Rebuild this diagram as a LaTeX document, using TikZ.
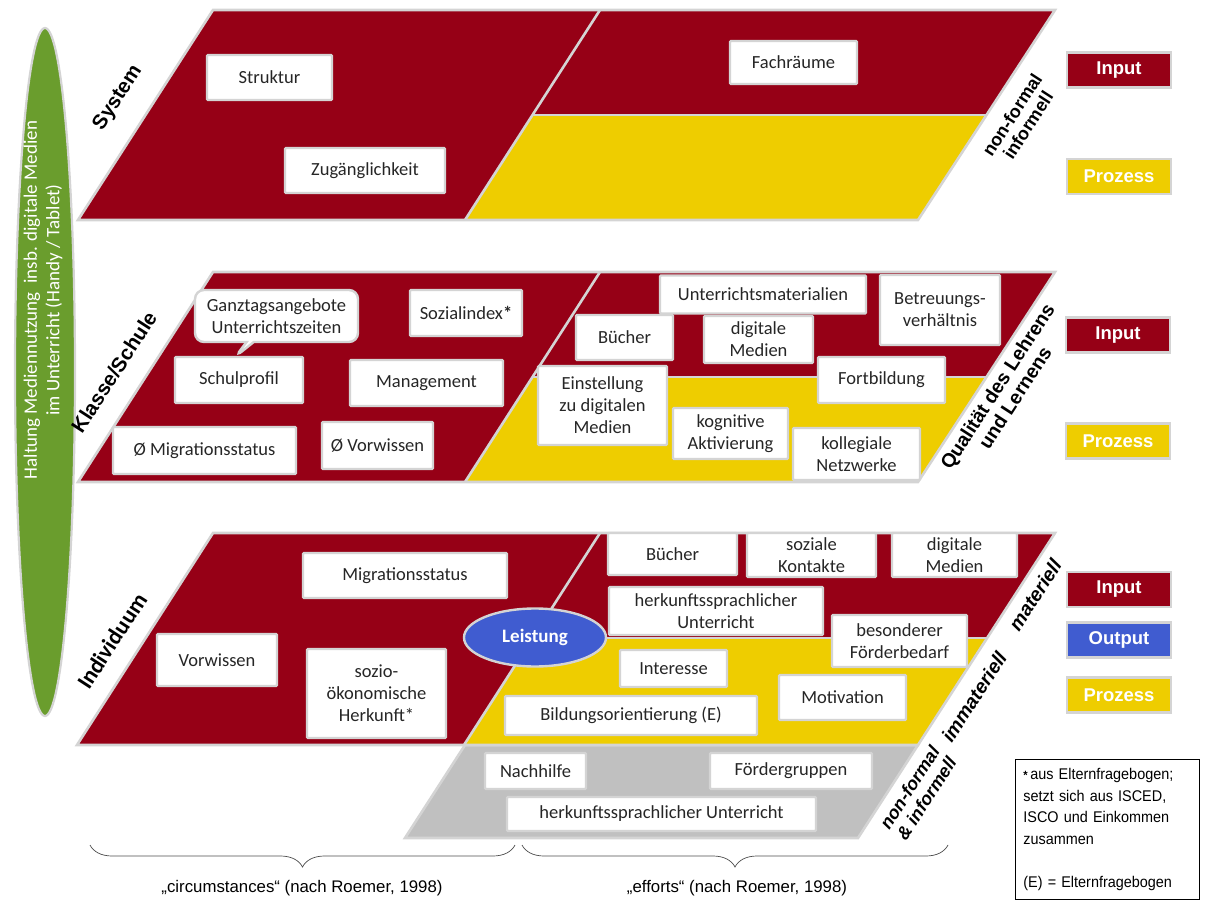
\documentclass[tikz,border=0pt]{standalone}
\usepackage{fontspec}
\setmainfont{Carlito}
\newfontfamily\arialf{Liberation Sans}
\newfontfamily\narrowf[FakeStretch=0.93]{Liberation Sans}
\usetikzlibrary{shapes.geometric,shapes.callouts,decorations.pathreplacing}
\definecolor{dred}{RGB}{150,0,22}
\definecolor{ylw}{RGB}{238,205,0}
\definecolor{gfill}{RGB}{192,192,192}
\definecolor{bord}{RGB}{212,212,212}
\definecolor{blu}{RGB}{64,92,208}
\definecolor{grn}{RGB}{106,157,45}
\tikzset{
  box/.style={draw=bord, line width=2.4pt, fill=white, rounded corners=1pt, align=center,
    font=\fontsize{18.5}{22}\selectfont, inner sep=0pt, text=black!85},
  lay/.style={draw=bord, line width=2.6pt},
  tag/.style={draw=bord, line width=2.6pt, text=white, font=\arialf\bfseries\fontsize{18.5}{20}\selectfont,
    minimum width=104, minimum height=35, inner sep=0pt},
  lbl/.style={font=\arialf\bfseries\fontsize{20.5}{22}\selectfont, rotate=57, align=center, inner sep=0pt},
  lbli/.style={font=\arialf\bfseries\itshape\fontsize{19.5}{21}\selectfont, rotate=57, align=center, inner sep=0pt},
  brc/.style={decorate, decoration={brace, mirror, amplitude=22pt}, draw=black!70, line width=0.7pt},
  btxt/.style={font=\arialf\fontsize{16.8}{19}\selectfont}
}
\newcommand\bx[6]{\node[box, minimum width=#4, minimum height=#5] (#1) at (#2,#3) {#6};}
\begin{document}
\begin{tikzpicture}[x=1pt,y=-1pt]
\useasboundingbox (0,0) rectangle (1208,901);

% green ellipse
\node[ellipse, fill=grn, draw=bord, line width=2.2pt, minimum width=60, minimum height=688, inner sep=0pt] (haltung) at (45,372) {};
\node[rotate=90, text=white, inner sep=0pt, align=center, font=\fontsize{19}{22.5}\selectfont] (haltungtxt) at (43,300)
  {Haltung Mediennutzung\ \ insb. digitale Medien\\ im Unterricht (Handy / Tablet)};

% ===== top layer =====
\fill[dred] (213,10) -- (600,10) -- (465,220) -- (78,220) -- cycle;
\fill[dred] (600,10) -- (1055,10) -- (987,115) -- (532,115) -- cycle;
\fill[ylw] (532,115) -- (987,115) -- (918,220) -- (465,220) -- cycle;
\draw[lay] (213,10) -- (1055,10) -- (918,220) -- (78,220) -- cycle;
\draw[lay] (600,10) -- (465,220);
\draw[lay] (532,115) -- (987,115);

\bx{struktur}{269.5}{77.5}{125}{45}{Struktur}
\bx{zugang}{365}{170.5}{160}{45}{Zugänglichkeit}
\bx{fachraeume}{793.5}{62.5}{127}{43}{Fachräume}

\node[lbl] (system) at (118,98) {System};
\node[lbl, font=\arialf\bfseries\fontsize{18}{19}\selectfont] (nfi1) at (1020,120) {non-formal\\informell};
\node[tag, fill=dred] (in1) at (1119,70) {Input};
\node[tag, fill=ylw] (pr1) at (1119,176.5) {Prozess};

% ===== middle layer =====
\fill[dred] (213,272) -- (600,272) -- (465,482) -- (78,482) -- cycle;
\fill[dred] (600,272) -- (1055,272) -- (987,377) -- (532,377) -- cycle;
\fill[ylw] (532,377) -- (987,377) -- (918,482) -- (465,482) -- cycle;
\draw[lay] (213,272) -- (1055,272) -- (918,482) -- (78,482) -- cycle;
\draw[lay] (600,272) -- (465,482);
\draw[lay] (532,377) -- (987,377);

\node[box, rectangle callout, rounded corners=9pt, minimum width=163, minimum height=52,
  callout absolute pointer={(235,357)}] (ganztag) at (276.5,316) {Ganztagsangebote\\Unterrichtszeiten};
\bx{sozialindex}{466}{313}{112}{46}{Sozialindex\textbf{*}}
\bx{schulprofil}{239}{380}{128}{46}{Schulprofil}
\bx{management}{426.5}{383}{153}{46}{Management}
\bx{migdurch}{204.5}{450.5}{183}{47}{Ø Migrationsstatus}
\bx{vordurch}{377.5}{445.5}{111}{47}{Ø Vorwissen}
\bx{umat}{763}{294.5}{206}{38}{Unterrichtsmaterialien}
\bx{betreu}{940}{310}{120}{70}{Betreuungs-\\verhältnis}
\bx{buecher1}{624.5}{337.5}{97}{45}{Bücher}
\bx{digmed1}{758.5}{339.5}{109}{47}{digitale\\Medien}
\bx{einst}{602.5}{405.5}{129}{79}{Einstellung\\zu digitalen\\Medien}
\bx{fortb}{881.5}{380}{127}{46}{Fortbildung}
\bx{kogn}{730.5}{433.5}{115}{51}{kognitive\\Aktivierung}
\bx{koll}{856.5}{454}{127}{52}{kollegiale\\Netzwerke}

\node[lbl] (klasse) at (114,372) {Klasse/Schule};
\node[lbl, font=\arialf\bfseries\fontsize{19.5}{21}\selectfont] (qual) at (1006,392) {Qualität des Lehrens\\und Lernens};
\node[tag, fill=dred] (in2) at (1118,335) {Input};
\node[tag, fill=ylw] (pr2) at (1118,441) {Prozess};

% ===== bottom layer =====
\fill[gfill] (465,745) -- (918,745) -- (858,838) -- (405,838) -- cycle;
\draw[lay] (465,745) -- (918,745) -- (858,838) -- (405,838) -- cycle;
\fill[dred] (213,533) -- (600,533) -- (464,745) -- (77,745) -- cycle;
\fill[dred] (600,533) -- (1055,533) -- (986,638) -- (532,638) -- cycle;
\fill[ylw] (532,638) -- (986,638) -- (918,745) -- (464,745) -- cycle;
\draw[lay] (213,533) -- (1055,533) -- (918,745) -- (77,745) -- cycle;
\draw[lay] (600,533) -- (464,745);
\draw[lay] (532,638) -- (986,638);

\bx{migstat}{405}{575.5}{204}{45}{Migrationsstatus}
\bx{vorwissen}{217}{660}{120}{52}{Vorwissen}
\bx{sozio}{376.5}{693.5}{139}{89}{sozio-\\ökonomische\\Herkunft*}
\bx{buecher2}{672.5}{554}{129}{42}{Bücher}
\bx{sozkont}{811.5}{555}{129}{44}{soziale\\Kontakte}
\bx{digmed2}{954.5}{555}{125}{44}{digitale\\Medien}
\bx{herk1}{716}{611}{214}{48}{herkunftssprachlicher\\Unterricht}
\bx{foerder}{899.5}{641}{135}{52}{besonderer\\Förderbedarf}
\bx{interesse}{673.5}{668.5}{107}{37}{Interesse}
\bx{motiv}{842.5}{697.5}{127}{45}{Motivation}
\bx{bildung}{631}{715.5}{252}{39}{Bildungsorientierung (E)}
\bx{nachhilfe}{535.5}{771}{101}{36}{Nachhilfe}
\bx{foergr}{791}{771}{162}{36}{Fördergruppen}
\bx{herk2}{661.5}{814}{309}{34}{herkunftssprachlicher Unterricht}

\node[ellipse, fill=blu, draw=bord, line width=2.4pt, minimum width=142, minimum height=58, inner sep=0pt,
  text=white, font=\bfseries\fontsize{19}{22}\selectfont] (leistung) at (535,637.5) {Leistung};

\node[lbl, font=\bfseries\fontsize{23}{24}\selectfont] (indiv) at (112,641) {Individuum};
\node[lbli] (mat) at (1035,595) {materiell};
\node[lbli] (immat) at (974,697) {immateriell};
\node[lbli, font=\arialf\bfseries\itshape\fontsize{18}{20}\selectfont] (nfi2) at (918,793) {non-formal\\\& informell};
\node[tag, fill=dred] (in3) at (1119,589.5) {Input};
\node[tag, fill=blu] (out3) at (1119,640) {Output};
\node[tag, fill=ylw] (pr3) at (1119,695) {Prozess};

% legend
\node[draw=black, line width=0.8pt, anchor=north west, text width=168pt, minimum height=130, inner xsep=8pt, inner ysep=9pt,
  align=left, font=\narrowf\fontsize{15.5}{21.5}\selectfont] (legend) at (1015,759)
  {\textbf{\large*}\,aus Elternfragebogen;\\setzt sich aus ISCED,\\ISCO und Einkommen\\zusammen\\[21.5pt](E) = Elternfragebogen};

% braces
\coordinate (b1l) at (90,845);
\coordinate (b1r) at (515,845);
\coordinate (b2l) at (522,845);
\coordinate (b2r) at (948,845);
\draw[brc] (b1l) -- (b1r);
\draw[brc] (b2l) -- (b2r);
\node[btxt] (circ) at (302,888) {„circumstances“ (nach Roemer, 1998)};
\node[btxt] (eff) at (737,888) {„efforts“ (nach Roemer, 1998)};
\end{tikzpicture}
\end{document}
